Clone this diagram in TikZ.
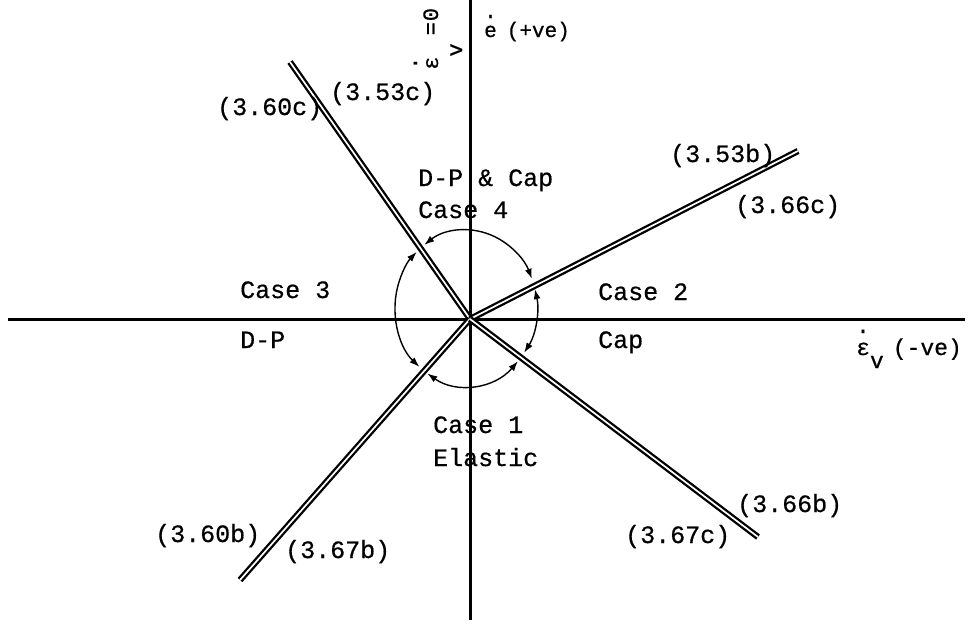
\documentclass[tikz,border=0pt]{standalone}
\usepackage{fontspec}
\setmainfont{Liberation Mono}[FakeBold=0.6]
\usetikzlibrary{arrows.meta}
\begin{document}
\begin{tikzpicture}[x=1pt,y=1pt,
  axis/.style={line width=3pt},
  rail/.style={double=white, line width=2.3pt, double distance=1.7pt},
  arcarrow/.style={line width=1.4pt, {Latex[length=10pt,width=7pt]}-{Latex[length=10pt,width=7pt]}},
  lbl/.style={inner sep=0pt, anchor=base west, font=\fontsize{25}{25}\selectfont},
  axlbl/.style={inner sep=0pt, anchor=base west, font=\fontsize{21}{21}\selectfont}
]
\useasboundingbox (0,0) rectangle (975,-630);
% axes
\coordinate (O) at (470,-319);
\coordinate (axL) at (8,-319);
\coordinate (axR) at (965,-319);
\coordinate (axT) at (470,0);
\coordinate (axB) at (470,-620);
\draw[axis] (axL) -- (axR);
\draw[axis] (axT) -- (axB);
% double lines
\coordinate (ul) at (290,-62);
\coordinate (ur) at (798,-151);
\coordinate (ll) at (240,-580);
\coordinate (lr) at (758,-537);
\draw[rail] (O) -- (ul);
\draw[rail] (O) -- (ur);
\draw[rail] (O) -- (ll);
\draw[rail] (O) -- (lr);
% arcs
\coordinate (E) at (466,-308);
\draw[arcarrow, shift={(E)}] (126:71pt and 78pt) arc[start angle=126, end angle=22, x radius=71pt, y radius=78pt];
\draw[arcarrow, shift={(E)}] (14:71pt and 78pt) arc[start angle=14, end angle=-35, x radius=71pt, y radius=78pt];
\draw[arcarrow, shift={(E)}] (-43:71pt and 78pt) arc[start angle=-43, end angle=-123, x radius=71pt, y radius=78pt];
\draw[arcarrow, shift={(E)}] (229:71pt and 78pt) arc[start angle=229, end angle=134, x radius=71pt, y radius=78pt];
% equation labels
\node[lbl] (t360c) at (217,-115) {(3.60c)};
\node[lbl] (t353c) at (330,-100) {(3.53c)};
\node[lbl] (t353b) at (670,-162) {(3.53b)};
\node[lbl] (t366c) at (735,-213) {(3.66c)};
\node[lbl] (t360b) at (155,-542) {(3.60b)};
\node[lbl] (t367b) at (285,-558) {(3.67b)};
\node[lbl] (t366b) at (737,-512) {(3.66b)};
\node[lbl] (t367c) at (625,-543) {(3.67c)};
% case labels
\node[lbl] (dpcap) at (418,-186) {D-P \& Cap};
\node[lbl] (case4) at (418,-218) {Case 4};
\node[lbl] (case3) at (240,-298) {Case 3};
\node[lbl] (dp) at (240,-348) {D-P};
\node[lbl] (case2) at (598,-300) {Case 2};
\node[lbl] (cap) at (598,-348) {Cap};
\node[lbl] (case1) at (433,-433) {Case 1};
\node[lbl] (elastic) at (433,-466) {Elastic};
% axis labels
\node[axlbl] (edot) at (484,-37) {\rlap{\raisebox{19pt}{.}}e\hspace{10pt}(+ve)};
\node[axlbl, font=\fontsize{23}{23}\selectfont] (epsx) at (856,-355) {\rlap{\raisebox{22pt}{.}}ε\raisebox{-13pt}{v}\hspace{9pt}(-ve)};
\node[axlbl, font=\fontsize{22}{22}\selectfont, rotate=90] (epsy) at (438,-70) {\rlap{\raisebox{21pt}{.}}ε\raisebox{-24pt}{v}\hspace{8pt}=\hspace{1pt}0};
\end{tikzpicture}
\end{document}
